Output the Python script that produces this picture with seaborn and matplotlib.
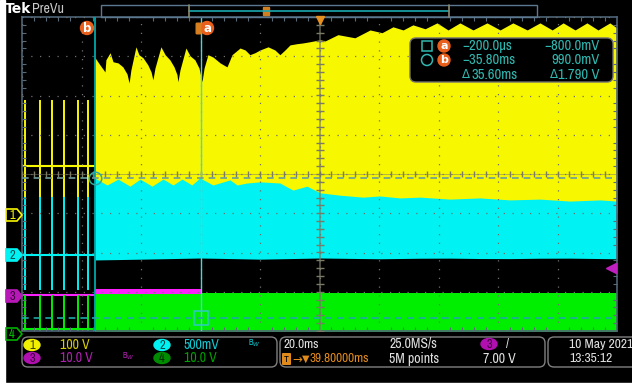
import numpy as np
import pandas as pd
import matplotlib
matplotlib.use("Agg")
import matplotlib.pyplot as plt
from matplotlib import font_manager
from matplotlib.patches import Rectangle, FancyBboxPatch, Ellipse, Circle, Polygon
import seaborn as sns

# ---- screen data: time in ms, level in divisions (0 = centre line) ----
t_left, t_right = -60.2, 139.8
cursor_a_t, cursor_b_t = -0.2, -35.8
cursor_a_lvl, cursor_b_lvl = -3.67, -0.10

# switching pulses before cursor b
pulse_t = [-59.2, -54.2, -50.1, -46.1, -41.4, -38.0]
yellow_base, cyan_base, magenta_base, green_base = 0.20, -2.07, -3.09, -3.95

# ch1 (yellow) upper envelope after start
yellow_t = [-35.8, -34.0, -32.3, -32.0, -30.6, -29.6, -27.9, -26.3, -24.9, -24.2,
            -23.6, -21.9, -20.9, -19.5, -17.9, -16.8, -16.2, -15.5, -13.5, -12.1,
            -10.5, -9.1, -8.1, -7.8, -7.1, -5.1, -3.7, -2.1, -0.7, 0.3,
            1.0, 2.3, 4.0, 6.4, 8.0, 8.7, 9.7, 10.4, 13.1, 14.8,
            16.4, 18.1, 19.8, 22.5, 24.8, 26.5, 28.2, 29.9, 32.2, 34.3,
            36.6, 40.0, 41.7, 46.0, 51.7, 56.8, 60.8, 64.5, 67.9, 71.2,
            75.3, 79.3, 83.0, 87.0, 91.4, 96.1, 100.5, 104.8, 109.6, 113.9,
            118.0, 121.7, 125.7, 129.7, 133.4, 137.4, 139.8]
yellow_top = [2.98, 2.78, 2.60, 2.91, 3.09, 2.86, 2.83, 2.73, 2.55, 2.32,
              2.65, 3.24, 3.04, 2.96, 2.78, 2.60, 2.40, 2.70, 3.24, 3.04,
              2.91, 2.73, 2.53, 2.35, 2.65, 3.21, 3.01, 2.91, 2.70, 2.35,
              2.70, 3.04, 2.98, 2.83, 2.76, 2.73, 2.91, 3.04, 3.21, 3.16,
              3.04, 3.09, 3.16, 3.24, 3.16, 3.04, 3.16, 3.29, 3.32, 3.34,
              3.37, 3.42, 3.39, 3.55, 3.47, 3.67, 3.60, 3.75, 3.67, 3.80,
              3.70, 3.85, 3.67, 3.85, 3.67, 3.85, 3.67, 3.85, 3.67, 3.85,
              3.67, 3.85, 3.67, 3.85, 3.67, 3.85, 3.72]

# ch2 (cyan) band
cyan_t = [-35.8, -31.6, -27.9, -23.9, -20.5, -16.5, -12.8, -9.4, -6.4, -3.1,
          -0.4, 4.0, 9.7, 12.1, 15.4, 19.8, 26.5, 30.9, 35.6, 40.0,
          46.7, 54.4, 60.1, 66.9, 73.6, 83.7, 93.7, 103.8, 113.9, 124.0,
          134.1, 139.8]
cyan_top = [-0.10, -0.28, -0.13, -0.31, -0.13, -0.31, -0.13, -0.28, -0.13, -0.28,
            -0.10, -0.28, -0.15, -0.28, -0.23, -0.20, -0.23, -0.41, -0.31, -0.48,
            -0.54, -0.59, -0.56, -0.61, -0.59, -0.64, -0.61, -0.66, -0.64, -0.69,
            -0.66, -0.69]
cyan_bot_t = [-35.8, -20.0, 0.0, 20.0, 40.0, 60.0, 80.0, 100.0, 120.0, 139.8]
cyan_bot = [-2.19, -2.17, -2.14, -2.17, -2.14, -2.16, -2.14, -2.16, -2.14, -2.16]

# ch3 (magenta) and ch4 (green)
magenta_band = (-2.93, -3.06)
green_top = -3.04

# cursor readout
readout_left = ["\u2212200.0\u00b5s", "\u221235.80ms", "35.60ms"]
readout_right = ["\u2212800.0mV", "990.0mV", "1.790 V"]

# colours
YEL, CYN, MAG, GRN = "#f7f700", "#00f2f2", "#ff20ff", "#00ee00"
ORG = "#e8601c"

sns.set_theme(style="dark", rc={"axes.facecolor": "black", "figure.facecolor": "black",
                                "savefig.facecolor": "black"})

# scope text is a narrow face; use one if installed
names = {f.name for f in font_manager.fontManager.ttflist}
narrow = [n for n in ["Liberation Sans Narrow", "Archivo Narrow"] if n in names]
if narrow:
    FONT = [narrow[0], "DejaVu Sans"]
    FS = 10.5
else:
    FONT = ["DejaVu Sans"]
    FS = 8
FSB = FS - 1.0  # status bar
plt.rcParams["font.family"] = FONT

fig = plt.figure(figsize=(6.32, 3.85), dpi=100)
ax = fig.add_axes([22 / 632, 1 - 331 / 385, 595 / 632, 314 / 385])
ax.set_facecolor("black")

# ---- traces ----
ax.fill_between(yellow_t, yellow_top, -1.0, color=YEL, lw=0, zorder=1)
ax.fill_between(cyan_t, cyan_top, np.interp(cyan_t, cyan_bot_t, cyan_bot), color=CYN, lw=0, zorder=1.1)
ax.fill_between([cursor_b_t, t_right], green_top, -4.2, color=GRN, lw=0, zorder=1.1)
ax.fill_between([cursor_b_t, cursor_a_t], magenta_band[0], magenta_band[1], color=MAG, lw=0, zorder=1.2)

left = pd.DataFrame({"t": [t_left, cursor_b_t]})
for lvl, col in [(yellow_base, YEL), (cyan_base, CYN), (magenta_base, MAG), (green_base, GRN)]:
    sns.lineplot(x=left["t"], y=[lvl, lvl], ax=ax, color=col, lw=1.5, estimator=None, zorder=1.3)
ax.vlines(pulse_t, -0.59, 1.89, color=YEL, lw=1.4, zorder=1.3)
ax.vlines(pulse_t, -2.96, -0.59, color=CYN, lw=1.4, zorder=1.3)
ax.vlines(pulse_t, -4.0, -3.09, color=GRN, lw=1.4, zorder=1.3)

# ---- graticule ----
ax.set_xlim(t_left, t_right)
ax.set_ylim(-4, 4)
ax.set_xticks(np.arange(t_left, t_right + 0.1, 20))
ax.set_xticks(np.arange(t_left, t_right + 0.1, 4), minor=True)
ax.set_yticks(np.arange(-4, 4.1, 1))
ax.set_yticks(np.arange(-4, 4.1, 0.2), minor=True)
ax.tick_params(which="both", direction="in", colors="#5a6a78", labelbottom=False, labelleft=False,
               top=True, right=True, bottom=True, left=True)
ax.tick_params(which="major", length=0)
ax.tick_params(which="minor", length=3, width=0.8)
ax.grid(True, which="major", color="#707070", ls=(0, (1, 6)), lw=0.9)
ax.set_axisbelow(False)
for s in ax.spines.values():
    s.set_color("#4e6478")
    s.set_linewidth(1.2)
ctr_t = (t_left + t_right) / 2
ax.axvline(ctr_t, color="#7a7a66", lw=1.1, alpha=0.8, zorder=2.6)
ax.axhline(0, color="#7a7a66", lw=0.6, alpha=0.6, zorder=2.6)
ax.plot(np.arange(t_left, t_right, 4), np.zeros(50), ls="none", marker="|", ms=4, color="#7a7a66", zorder=2.6)
ax.plot(np.full(40, ctr_t), np.arange(-4, 4, 0.2), ls="none", marker="_", ms=6, color="#7a7a66", zorder=2.6)

# ---- cursors ----
ax.axvline(cursor_b_t, color="#00a8a8", lw=1.3, zorder=3)
ax.axvline(cursor_a_t, color="#40dada", lw=1.0, zorder=3)
ax.axhline(cursor_b_lvl, color="#6c9c9c", lw=1.2, ls=(0, (4, 3)), zorder=3)
ax.axhline(cursor_a_lvl, color="#20a8a8", lw=1.2, ls=(0, (4, 3)), zorder=3)
ax.plot([cursor_b_t], [cursor_b_lvl], marker="o", ms=9, mfc="none", mec="#30a8a8", mew=1.1, zorder=3)
ax.plot([cursor_a_t], [cursor_a_lvl], marker="s", ms=10, mfc="none", mec="#30c8c8", mew=1.1, zorder=3)

# ---- overlay (screen furniture) ----
ov = fig.add_axes([0, 0, 1, 1], zorder=5)
ov.set_xlim(0, 632)
ov.set_ylim(385, 0)
ov.axis("off")
ov.patch.set_alpha(0)
ov.add_patch(Rectangle((0, 0), 5, 385, color="white"))
ov.add_patch(Rectangle((0, 383), 632, 2, color="white"))

ov.text(5, 9, "Tek", color="white", fontsize=10, fontweight="bold", va="center", family="DejaVu Sans")
ov.text(32, 9, "PreVu", color="#c8c8c8", fontsize=FS - 0.5, va="center")
ov.add_patch(Rectangle((101, 5), 436, 12, fill=False, ec="#5a7890", lw=1))
ov.plot([189, 449], [10.5, 10.5], color="#1aa8b0", lw=1.2)
ov.plot([189, 189], [5, 17], color="#8a8a70", lw=1.2)
ov.plot([449, 449], [5, 17], color="#8a8a70", lw=1.2)
ov.add_patch(FancyBboxPatch((264, 8), 5, 7, boxstyle="round,pad=0.5", fc="#d08020", ec="#d08020"))
ov.plot([319.5], [19.5], marker="v", ms=6, color="#e89020")

# cursor labels
for cx, lab in [(87, "b"), (207, "a")]:
    ov.add_patch(Circle((cx, 28), 6.5, color=ORG))
    ov.text(cx, 28, lab, color="white", fontsize=8.5, fontweight="bold", ha="center", va="center",
            family="DejaVu Sans")
ov.add_patch(FancyBboxPatch((197, 24), 3, 9, boxstyle="round,pad=0.8", fc="#d88020", ec="#d88020"))

# readout box
TEAL = "#2fb8b0"
ov.add_patch(FancyBboxPatch((410, 38), 203, 44, boxstyle="round,pad=0,rounding_size=6",
                            fc="black", ec="#707070", lw=1))
ov.add_patch(Rectangle((422, 41), 10, 10, fill=False, ec=TEAL, lw=1.1))
ov.add_patch(Circle((427, 60), 5.5, fill=False, ec=TEAL, lw=1.1))
for cy, lab in [(46, "a"), (60, "b")]:
    ov.add_patch(Circle((444, cy), 6, color=ORG))
    ov.text(444, cy, lab, color="white", fontsize=8, fontweight="bold", ha="center", va="center",
            family="DejaVu Sans")
right_texts = []
for cy, tl, tr in zip([46, 60, 75], readout_left, readout_right):
    ov.text(462 if cy < 70 else 471, cy, tl, color=TEAL, fontsize=FS, va="center")
    right_texts.append(ov.text(600, cy, tr, color=TEAL, fontsize=FS, va="center", ha="right"))
# delta signs of the last row, placed in front of the values
ov.text(462, 75, "\u0394", color=TEAL, fontsize=8.5, va="center", family="DejaVu Sans")
fig.canvas.draw()
bb = right_texts[2].get_window_extent().transformed(ov.transData.inverted())
ov.text(min(bb.x0, bb.x1) - 0.5, 75, "\u0394", color=TEAL, fontsize=8.5, va="center", ha="right",
        family="DejaVu Sans")

# channel tags on the left
def tag(y, num, fc, ec, tc):
    ov.add_patch(Polygon([(6, y - 6), (17, y - 6), (22, y), (17, y + 6), (6, y + 6)],
                         closed=True, fc=fc, ec=ec, lw=1.2))
    ov.text(12, y + 0.5, num, color=tc, fontsize=9, ha="center", va="center")

tag(215, "1", "black", YEL, YEL)
tag(255, "2", CYN, CYN, "#005050")
tag(296, "3", "#b818b8", "#b818b8", "#400040")
tag(334, "4", "black", "#00b000", "#00c000")
ov.plot([611], [268], marker="<", ms=7, color="#c020c0")

# status bar
for x0, w in [(22, 255), (280, 265)]:
    ov.add_patch(FancyBboxPatch((x0, 337), w, 30, boxstyle="round,pad=0,rounding_size=6",
                                fc="black", ec="#808080", lw=1))
ov.add_patch(FancyBboxPatch((548, 337), 100, 30, boxstyle="round,pad=0,rounding_size=6",
                            fc="black", ec="#808080", lw=1))


def badge(x, y, num, fc, tc):
    ov.add_patch(Ellipse((x, y), 16, 11, color=fc))
    ov.text(x, y + 0.5, num, color=tc, fontsize=9, ha="center", va="center")

badge(32, 345, "1", "#f0f000", "#404000")
ov.text(60, 345, "100 V", color="#d8cc00", fontsize=FSB + 0.5, va="center")
badge(162, 345, "2", CYN, "#004848")
ov.text(184, 345, "500mV", color="#10c8d0", fontsize=FSB + 0.5, va="center")
ov.text(248, 343, "B$_W$", color="#10c8d0", fontsize=6, va="center")
badge(32, 358, "3", "#b010b0", "#400040")
ov.text(60, 358, "10.0 V", color="#b020b0", fontsize=FSB + 0.5, va="center")
ov.text(122, 356, "B$_W$", color="#b020b0", fontsize=6, va="center")
badge(162, 358, "4", "#008c00", "#003000")
ov.text(184, 358, "10.0 V", color="#00a000", fontsize=FSB + 0.5, va="center")

ov.text(283, 344, "20.0ms", color="#e0e0e0", fontsize=FSB, va="center")
ov.add_patch(FancyBboxPatch((283, 354), 7, 10, boxstyle="round,pad=0.3", fc="#e08a1c", ec="#e08a1c"))
ov.text(286.5, 359, "T", color="black", fontsize=7, ha="center", va="center", fontweight="bold")
ov.text(292, 359, "\u2192", color="#e08a1c", fontsize=8.5, va="center", family="DejaVu Sans")
ov.text(301.5, 359, "\u25bc", color="#e08a1c", fontsize=7, va="center", family="DejaVu Sans")
ov.text(309, 359, "39.80000ms", color="#e08a1c", fontsize=FSB, va="center")
ov.text(389, 344, "25.0MS/s", color="#e0e0e0", fontsize=FSB + 0.5, va="center")
ov.text(389, 359, "5M points", color="#e0e0e0", fontsize=FSB + 0.5, va="center")
badge(489, 344, "3", "#b010b0", "#400040")
ov.text(506, 344, "/", color="#e0e0e0", fontsize=FSB, va="center")
ov.text(483, 359, "7.00 V", color="#e0e0e0", fontsize=FSB + 0.5, va="center")
ov.text(569, 344.5, "10 May 2021", color="#e0e0e0", fontsize=FS - 0.8, va="center")
ov.text(569, 358.5, "13:35:12", color="#e0e0e0", fontsize=FS - 0.8, va="center")

fig.savefig("out.png", dpi=100, facecolor="black")
